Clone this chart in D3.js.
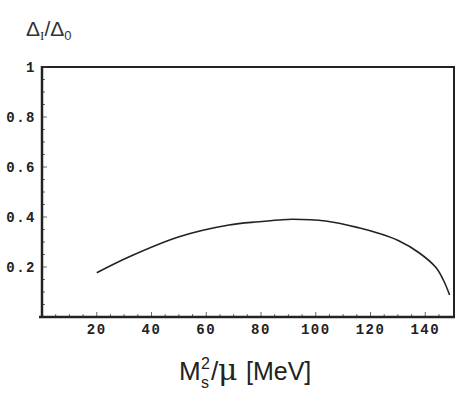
<!DOCTYPE html>
<html><head><meta charset="utf-8">
<script src="https://cdn.jsdelivr.net/npm/d3@7"></script>
<style>body{margin:0;background:#fff}</style>
</head><body>
<svg id="c" width="463" height="411"></svg>
<script>
const xVals = [20, 31.9, 50.1, 68.3, 79.3, 86.5, 91.4, 103.6, 115.7, 122.9, 130.3, 137.6, 143.9, 146.7, 148.9];
const yVals = [0.177, 0.241, 0.321, 0.368, 0.381, 0.388, 0.391, 0.384, 0.357, 0.335, 0.305, 0.258, 0.198, 0.146, 0.088];
const xTickLabels = [20, 40, 60, 80, 100, 120, 140];
const yTickLabels = [0.2, 0.4, 0.6, 0.8, 1];

const svg = d3.select("#c");
const L = 42, R = 454, T = 67, B = 317;
const x = d3.scaleLinear().domain([0, 150.5]).range([L, R]);
const y = d3.scaleLinear().domain([0, 1]).range([B, T]);

svg.append("rect").attr("x", L).attr("y", T).attr("width", R - L).attr("height", B - T)
  .attr("fill", "none").attr("stroke", "#222").attr("stroke-width", 2);

const minorX = d3.range(5, 150, 5);
const minorY = d3.range(1, 21).map(i => i * 0.05);
const monoFont = "'Liberation Mono', 'DejaVu Sans Mono', monospace";

const gx = svg.append("g").attr("transform", `translate(0,${B})`);
gx.selectAll("line").data(minorX).join("line")
  .attr("x1", d => x(d)).attr("x2", d => x(d))
  .attr("y1", 0).attr("y2", d => (d % 20 === 0 ? -5 : -3))
  .attr("stroke", "#444").attr("stroke-width", 0.8);
gx.selectAll("text").data(xTickLabels).join("text")
  .attr("x", d => x(d)).attr("y", 17)
  .attr("text-anchor", "middle")
  .attr("font-family", monoFont)
  .attr("font-weight", "bold").attr("font-size", 14).attr("letter-spacing", 1.5)
  .attr("fill", "#222").text(d => d);

const gy = svg.append("g").attr("transform", `translate(${L},0)`);
gy.selectAll("line").data(minorY).join("line")
  .attr("y1", d => y(d)).attr("y2", d => y(d))
  .attr("x1", 0).attr("x2", (d, i) => ((i + 1) % 4 === 0 ? 5 : 3))
  .attr("stroke", "#444").attr("stroke-width", 0.8);
gy.selectAll("text").data(yTickLabels).join("text")
  .attr("x", -6).attr("y", d => y(d) + 5)
  .attr("text-anchor", "end")
  .attr("font-family", monoFont)
  .attr("font-weight", "bold").attr("font-size", 14).attr("letter-spacing", 1.5)
  .attr("fill", "#222").text(d => d === 1 ? "1" : d3.format(".1f")(d));

svg.append("line").attr("x1", L).attr("x2", L).attr("y1", T - 1).attr("y2", B + 1)
  .attr("stroke", "#222").attr("stroke-width", 2.5);
svg.append("line").attr("x1", L - 3).attr("x2", R + 1).attr("y1", B).attr("y2", B)
  .attr("stroke", "#222").attr("stroke-width", 2.5);

const pts = xVals.map((v, i) => [v, yVals[i]]);
svg.append("path").datum(pts)
  .attr("d", d3.line().x(d => x(d[0])).y(d => y(d[1])).curve(d3.curveCatmullRom.alpha(0.5)))
  .attr("fill", "none").attr("stroke", "#222").attr("stroke-width", 1.6);

// y label
const yl = svg.append("text").attr("x", 26).attr("y", 36)
  .attr("font-family", "'Liberation Sans', Arial, sans-serif").attr("font-size", 21).attr("fill", "#333");
yl.append("tspan").text("Δ");
yl.append("tspan").attr("font-size", 13).attr("dy", 4).attr("font-family", "'Liberation Serif', serif").text("I");
yl.append("tspan").attr("dy", -4).text("/Δ");
yl.append("tspan").attr("font-size", 13).attr("dy", 4).text("0");

// x label
const xf = "'Liberation Sans', Arial, sans-serif";
svg.append("text").attr("x", 179).attr("y", 380).attr("font-family", xf).attr("font-size", 26).attr("fill", "#222").text("M");
svg.append("text").attr("x", 201).attr("y", 388).attr("font-family", xf).attr("font-size", 16).attr("fill", "#222").text("s");
svg.append("text").attr("x", 201).attr("y", 369).attr("font-family", xf).attr("font-size", 16).attr("fill", "#222").text("2");
svg.append("text").attr("x", 211).attr("y", 380).attr("font-family", xf).attr("font-size", 26).attr("fill", "#222").text("/");
svg.append("text").attr("x", 218).attr("y", 380).attr("font-family", "'DejaVu Serif', serif").attr("font-size", 30).attr("fill", "#222").text("μ");
svg.append("text").attr("x", 246).attr("y", 380).attr("font-family", xf).attr("font-size", 25).attr("fill", "#222").text("[MeV]");
</script>
</body></html>
